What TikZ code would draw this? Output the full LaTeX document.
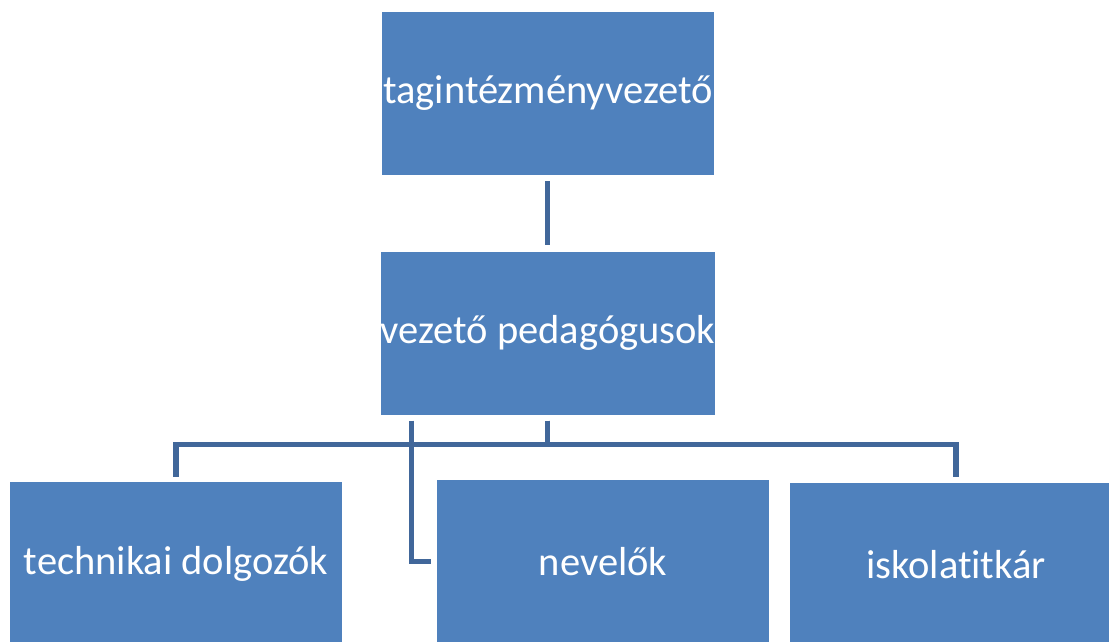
\documentclass[tikz,border=0pt]{standalone}
\usepackage{fontspec}
\setmainfont[Ligatures=NoCommon]{Carlito}
\usetikzlibrary{calc}
\definecolor{boxblue}{HTML}{4F81BD}
\definecolor{linkblue}{HTML}{41679A}
\tikzset{
  unit/.style={rectangle, fill=boxblue, draw=none, text=white,
    minimum width=332pt, minimum height=163pt, inner sep=0pt,
    font=\fontsize{40.5}{48}\selectfont},
  link/.style={draw=linkblue, line width=5.5pt}
}
\begin{document}
\begin{tikzpicture}[x=1pt,y=-1pt]
  \useasboundingbox (0,0) rectangle (1109,641);
  \clip (0,0) rectangle (1109,641);
  \fill[white] (0,0) rectangle (1109,641);
  % boxes of the hierarchy
  \node[unit] (top) at (548,93.5) {tagintézményvezető};
  \node[unit] (mid) at (548,333) {vezető pedagógusok};
  \node[unit] (tech) at (176,563.5) {technikai dolgozók};
  \node[unit] (nev) at (603,561.5) {nevelők};
  \node[unit] (isk) at (956,564.5) {iskolatitkár};
  % connectors
  \draw[link] ($(top.south)+(-0.5,6)$) -- ($(mid.north)+(-0.5,-6)$);
  \draw[link] ($(mid.south)+(-0.5,6)$) |- ($(tech.north)+(0,-37.5)$) -- ($(tech.north)+(0,-5)$);
  \draw[link] ($(mid.south)+(-0.5,6)$) |- ($(isk.north)+(0,-38.5)$) -- ($(isk.north)+(0,-5.5)$);
  \draw[link] ($(mid.south west)+(31,6)$) |- ($(nev.west)+(-6,0)$);
\end{tikzpicture}
\end{document}
